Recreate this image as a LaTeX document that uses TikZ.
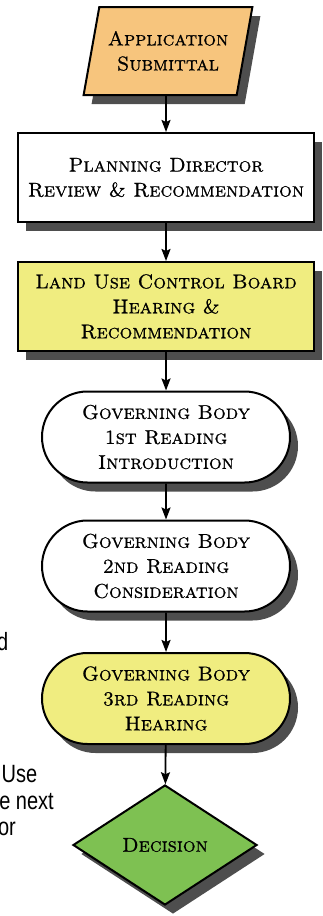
\documentclass[tikz,border=0pt]{standalone}
\usepackage{fontspec}
\usepackage{tikz}
\usetikzlibrary{shapes.geometric,shapes.misc,shadows,arrows.meta}

\newfontfamily\pagefont[FakeStretch=0.8]{Liberation Sans}
\newfontfamily\boxfont[FakeBold=0.8]{lmromancaps10-regular.otf}

\definecolor{submitorange}{RGB}{247,197,125}
\definecolor{hearyellow}{RGB}{240,237,128}
\definecolor{decidegreen}{RGB}{126,193,82}
\definecolor{shadowgray}{RGB}{78,78,78}

\begin{document}
\begin{tikzpicture}[x=1pt, y=-1pt,
    boxtext/.style={font=\boxfont\fontsize{20}{25}\selectfont, align=center, text=black},
    flowbox/.style={boxtext, draw=black, line width=2pt, inner sep=2pt,
      drop shadow={shadow xshift=8pt, shadow yshift=-9pt, fill=shadowgray, opacity=1}},
    stepbox/.style={flowbox, rectangle, minimum width=296pt, minimum height=89pt},
    roundbox/.style={flowbox, rounded rectangle, minimum width=252pt, minimum height=91pt},
    flowarrow/.style={line width=1.8pt, -{Stealth[length=12pt, width=9pt, inset=2pt]}},
    pagetext/.style={font=\pagefont\fontsize{25}{27}\selectfont, inner sep=0pt}]
  % Page size
  \clip (0,0) rectangle (323,916);

  % Steps of the process
  \node[flowbox, trapezium, trapezium left angle=72, trapezium right angle=108,
    trapezium stretches=true, minimum width=169pt, minimum height=88pt,
    fill=submitorange] (apply) at (168,51) {Application\\Submittal};
  \node[stepbox, fill=white] (plan) at (166,177.5) {Planning Director\\Review \& Recommendation};
  \node[stepbox, fill=hearyellow] (board) at (166,306.5) {Land Use Control Board\\Hearing \&\\Recommendation};
  \node[roundbox, fill=white] (read1) at (166,437) {Governing Body\\1st Reading\\Introduction};
  \node[roundbox, fill=white] (read2) at (166,566) {Governing Body\\2nd Reading\\Consideration};
  \node[roundbox, fill=hearyellow] (read3) at (166,698.5) {Governing Body\\3rd Reading\\Hearing};
  \node[flowbox, diamond, aspect=1.53, minimum width=184pt, minimum height=120pt,
    fill=decidegreen] (decide) at (165,845) {Decision};

  % Arrows between the steps
  \draw[flowarrow] (apply.south -| plan.north) -- (plan);
  \foreach \a/\b in {plan/board, board/read1, read1/read2, read2/read3, read3/decide}
    \draw[flowarrow] (\a) -- (\b);

  % Cut-off page text on the left
  \node[pagetext, anchor=base east] (fragd) at (8.5,650) {d};
  \node[pagetext, anchor=base west] (fraguse) at (1.5,782) {Use};
  \node[pagetext, anchor=base east] (fragnext) at (54,809) {e next};
  \node[pagetext, anchor=base east] (fragor) at (16,835) {or};
\end{tikzpicture}
\end{document}
